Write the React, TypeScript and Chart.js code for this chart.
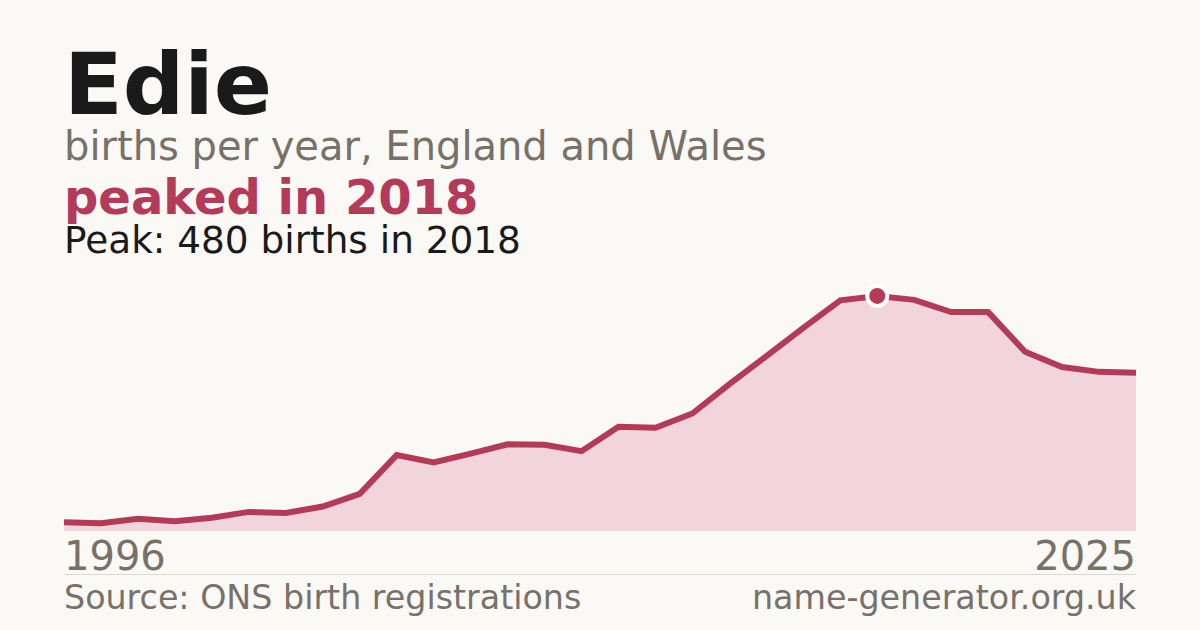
import { useRef, useEffect } from "react";
import { Chart, registerables, type ChartOptions } from "chart.js";

Chart.register(...registerables);

const years = [
  "1996", "1997", "1998", "1999", "2000", "2001", "2002", "2003", "2004", "2005",
  "2006", "2007", "2008", "2009", "2010", "2011", "2012", "2013", "2014", "2015",
  "2016", "2017", "2018", "2019", "2020", "2021", "2022", "2023", "2024", "2025",
];
const births = [
  18, 16, 25, 20, 27, 39, 37, 50, 76, 155,
  140, 158, 177, 176, 163, 213, 211, 240, 300, 357,
  415, 471, 480, 472, 447, 447, 366, 335, 325, 323,
];
const peakYear = "2018";

const FONT = '"DejaVu Sans", sans-serif';
const CRIMSON = "#b33a58";
const GREY = "#77716a";
const INK = "#1a1a1a";

export default function App() {
  const canvasRef = useRef<HTMLCanvasElement>(null);
  const chartRef = useRef<Chart | null>(null);

  useEffect(() => {
    if (!canvasRef.current) return;
    chartRef.current?.destroy();

    const peakIdx = years.indexOf(peakYear);

    const options: ChartOptions<"line"> = {
      responsive: true,
      maintainAspectRatio: false,
      animation: false,
      layout: { padding: 0 },
      plugins: { legend: { display: false }, tooltip: { enabled: false } },
      scales: {
        x: { display: false },
        y: { display: false, min: 0, max: 533 },
      },
    };

    chartRef.current = new Chart(canvasRef.current, {
      type: "line",
      data: {
        labels: years,
        datasets: [
          {
            data: births,
            borderColor: CRIMSON,
            borderWidth: 6,
            backgroundColor: "#f2d5dc",
            fill: "origin",
            tension: 0,
            clip: false,
            pointRadius: births.map((_, i) => (i === peakIdx ? 10 : 0)),
            pointBackgroundColor: CRIMSON,
            pointBorderColor: "#ffffff",
            pointBorderWidth: 4,
          },
        ],
      },
      options,
    });

    return () => {
      chartRef.current?.destroy();
    };
  }, []);

  const text = (extra: React.CSSProperties): React.CSSProperties => ({
    position: "absolute",
    margin: 0,
    lineHeight: 1,
    whiteSpace: "nowrap",
    fontFamily: FONT,
    ...extra,
  });

  return (
    <div
      style={{
        position: "fixed",
        left: 0,
        top: 0,
        width: 1200,
        height: 630,
        background: "#faf9f5",
        overflow: "hidden",
      }}
    >
      <div style={text({ left: 64, top: 41, fontSize: 86, fontWeight: 700, color: INK })}>Edie</div>
      <div style={text({ left: 64, top: 125.5, fontSize: 40, color: GREY })}>
        births per year, England and Wales
      </div>
      <div style={text({ left: 64, top: 173, fontSize: 48, fontWeight: 700, color: CRIMSON })}>
        peaked in 2018
      </div>
      <div style={text({ left: 64, top: 222, fontSize: 37.4, color: INK })}>Peak: 480 births in 2018</div>

      <div style={{ position: "absolute", left: 64, top: 270, width: 1072, height: 261 }}>
        <canvas ref={canvasRef} />
      </div>

      <div style={text({ left: 64, top: 535.5, fontSize: 40, color: GREY })}>{years[0]}</div>
      <div style={text({ right: 64, top: 535.5, fontSize: 40, color: GREY })}>{years[years.length - 1]}</div>

      <div style={{ position: "absolute", left: 64, top: 574, width: 1072, height: 1, background: "#dedad2" }} />

      <div style={text({ left: 64, top: 581, fontSize: 33.3, color: GREY })}>Source: ONS birth registrations</div>
      <div style={text({ right: 64, top: 581, fontSize: 33.3, color: GREY })}>name-generator.org.uk</div>
    </div>
  );
}
